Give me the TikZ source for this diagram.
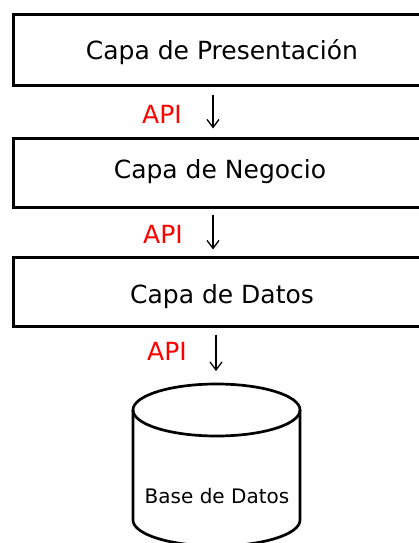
\documentclass[tikz,border=0pt]{standalone}
\usepackage{fontspec}
\setmainfont{DejaVu Sans}
\usepackage{tikz}
\usetikzlibrary{arrows.meta, positioning, calc}
\definecolor{apired}{RGB}{255, 0, 0}

\begin{document}
\begin{tikzpicture}[x=1pt, y=-1pt,
    capa/.style={draw, line width=3pt, minimum width=418pt, minimum height=70pt, inner sep=0pt},
    capatxt/.style={inner sep=0pt, font=\fontsize{25}{30}\selectfont},
    apilbl/.style={text=apired, inner sep=0pt, font=\fontsize{25}{30}\selectfont},
    flecha/.style={line width=1.3pt, -{Straight Barb[length=8pt, width=12pt]}}]
  \useasboundingbox (0, 0) rectangle (419, 543);

  % Capas
  \node[capa] (pres) at (222, 50) {};
  \node[capatxt] (prestxt) at (222, 52) {Capa de Presentación};
  \node[capa, minimum height=69pt] (neg) at (222, 172.5) {};
  \node[capatxt] (negtxt) at (220, 171.5) {Capa de Negocio};
  \node[capa, minimum height=69pt] (dat) at (222.5, 291.5) {};
  \node[capatxt] (dattxt) at (222, 297) {Capa de Datos};

  % Base de datos
  \draw[line width=2.7pt] (216.5, 410) ellipse [x radius=83.5, y radius=26];
  \draw[line width=2.7pt] (133, 410) -- (133, 520) arc[start angle=180, end angle=0, x radius=83.5, y radius=26] -- (300, 410);
  \coordinate (bdtop) at (216, 384);
  \node[font=\fontsize{20}{24}\selectfont, inner sep=0pt] (bd) at (217, 496) {Base de Datos};

  % API
  \node[apilbl] (api1) at (162, 114) {API};
  \node[apilbl] (api2) at (163, 234) {API};
  \node[apilbl] (api3) at (167, 351) {API};

  \draw[flecha, shorten <=8pt, shorten >=8pt] (pres.south -| 213, 0) -- (neg.north -| 213, 0);
  \draw[flecha, shorten <=6pt, shorten >=6pt] (neg.south -| 213, 0) -- (dat.north -| 213, 0);
  \draw[flecha, shorten <=7pt, shorten >=13pt] (dat.south -| 216, 0) -- (bdtop);
\end{tikzpicture}
\end{document}
